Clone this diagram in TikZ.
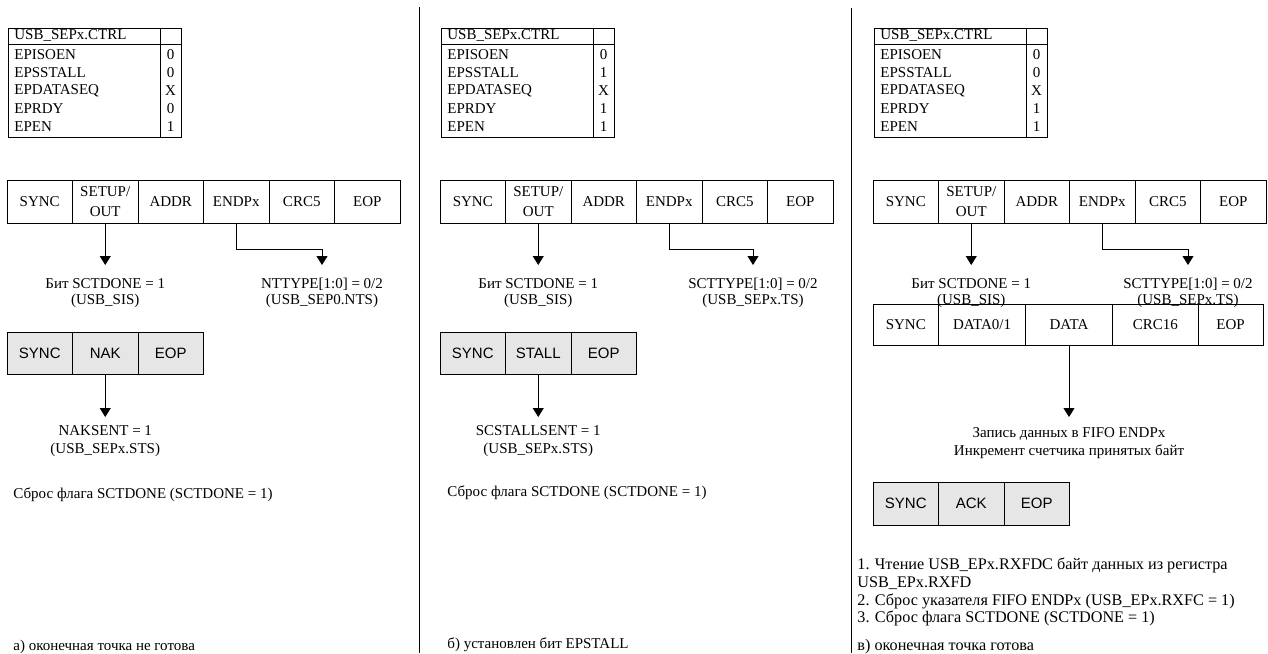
\documentclass[tikz,border=0pt]{standalone}
\usepackage{fontspec}
\setmainfont{Liberation Serif}
\setsansfont{Liberation Sans}
\usetikzlibrary{arrows.meta, positioning}
\definecolor{pktgray}{RGB}{230,230,230}

\begin{document}
\begin{tikzpicture}[x=1pt, y=-1pt, line width=0.8pt,
  font=\fontsize{15}{16}\selectfont,
  field/.style={draw, minimum width=65.5pt, minimum height=43pt, inner sep=0pt, outer sep=0pt, align=center},
  hsfield/.style={field, fill=pktgray, minimum height=42pt, font=\fontsize{15}{16}\selectfont\sffamily},
  txt/.style={align=center, inner sep=0pt},
  note/.style={anchor=west, inner sep=0pt},
  arr/.style={-{Triangle[width=11pt, length=9pt]}, shorten >=13pt}]
\useasboundingbox (0,0) rectangle (1268,653);

% dividers
\draw (419,7) -- (419,653);
\draw (851,8) -- (851,653);

\foreach \p/\ox/\vs/\vr in {a/0/0/0, b/433/1/1, c/866/0/1} {
  % register table
  \draw (\ox+8,28) rectangle (\ox+181,137);
  \draw (\ox+160,28) -- (\ox+160,137);
  \draw (\ox+8,44) -- (\ox+181,44);
  \node[note] (ctrl\p) at (\ox+14,36) {USB\_SEPx.CTRL};
  \foreach \rn/\rv [count=\k] in {EPISOEN/0, EPSSTALL/\vs, EPDATASEQ/X, EPRDY/\vr, EPEN/1} {
    \node[note] (bit\p\k) at (\ox+14,37+18*\k) {\rn};
    \node[txt] (val\p\k) at (\ox+170.5,37+18*\k) {\rv};
  }
  % token packet
  \node[field, anchor=north west] (sync\p) at (\ox+7,180) {SYNC};
  \node[field, right=0pt of sync\p, font=\fontsize{15}{20}\selectfont] (pid\p) {SETUP/\\OUT};
  \node[field, right=0pt of pid\p] (addr\p) {ADDR};
  \node[field, right=0pt of addr\p] (endp\p) {ENDPx};
  \node[field, right=0pt of endp\p] (crc\p) {CRC5};
  \node[field, right=0pt of crc\p] (eop\p) {EOP};
  \node[txt, below=55pt of pid\p] (done\p) {Бит SCTDONE = 1\\(USB\_SIS)};
  \draw[arr] (pid\p) -- (done\p);
}

\node[txt, anchor=north] (typea) at (322,278) {NTTYPE[1:0] = 0/2\\(USB\_SEP0.NTS)};
\node[txt, anchor=north] (typeb) at (753,278) {SCTTYPE[1:0] = 0/2\\(USB\_SEPx.TS)};
\node[txt, anchor=north] (typec) at (1188,278) {SCTTYPE[1:0] = 0/2\\(USB\_SEPx.TS)};
\foreach \p in {a,b,c}
  \draw[arr] (endp\p.south) -- ++(0,26) -| (type\p.north);

% a) endpoint not ready
\node[hsfield, anchor=north west] (hsynca) at (7,332) {SYNC};
\node[hsfield, right=0pt of hsynca] (naka) {NAK};
\node[hsfield, right=0pt of naka] (heopa) {EOP};
\node[txt, below=51pt of naka, font=\fontsize{15}{18}\selectfont] (senta) {NAKSENT = 1\\(USB\_SEPx.STS)};
\draw[arr, shorten >=8pt] (naka) -- (senta);
\node[note] (clra) at (13,495) {Сброс флага SCTDONE (SCTDONE = 1)};
\node[note] (capa) at (13,647) {а) оконечная точка не готова};

% b) EPSTALL set
\node[hsfield, anchor=north west] (hsyncb) at (440,332) {SYNC};
\node[hsfield, right=0pt of hsyncb] (stallb) {STALL};
\node[hsfield, right=0pt of stallb] (heopb) {EOP};
\node[txt, below=51pt of stallb, font=\fontsize{15}{18}\selectfont] (sentb) {SCSTALLSENT = 1\\(USB\_SEPx.STS)};
\draw[arr, shorten >=8pt] (stallb) -- (sentb);
\node[note] (clrb) at (447,493) {Сброс флага SCTDONE (SCTDONE = 1)};
\node[note] (capb) at (447,645) {б) установлен бит EPSTALL};

% c) endpoint ready
\node[field, anchor=north west, minimum height=41pt] (dsync) at (873,304) {SYNC};
\node[field, right=0pt of dsync, minimum width=87pt, minimum height=41pt] (dpid) {DATA0/1};
\node[field, right=0pt of dpid, minimum width=87pt, minimum height=41pt] (ddata) {DATA};
\node[field, right=0pt of ddata, minimum width=85.5pt, minimum height=41pt] (dcrc) {CRC16};
\node[field, right=0pt of dcrc, minimum width=65pt, minimum height=41pt] (deop) {EOP};
\node[txt, below=82pt of ddata, font=\fontsize{15}{18}\selectfont] (fifo) {Запись данных в FIFO ENDPx\\Инкремент счетчика принятых байт};
\draw[arr, shorten >=10pt] (ddata) -- (fifo);
\node[hsfield, anchor=north west, minimum height=43pt] (hsyncc) at (873,482) {SYNC};
\node[hsfield, right=0pt of hsyncc, minimum height=43pt] (ackc) {ACK};
\node[hsfield, right=0pt of ackc, minimum height=43pt] (heopc) {EOP};
\begin{scope}[every node/.append style={font=\fontsize{16.2}{18}\selectfont}]
\node[note] (stepone) at (857,565) {1. Чтение USB\_EPx.RXFDC байт данных из регистра};
\node[note] (steponeb) at (857,583) {USB\_EPx.RXFD};
\node[note] (steptwo) at (857,601) {2. Сброс указателя FIFO ENDPx (USB\_EPx.RXFC = 1)};
\node[note] (stepthree) at (857,618) {3. Сброс флага SCTDONE (SCTDONE = 1)};
\node[note] (capc) at (857,647) {в) оконечная точка готова};
\end{scope}
\end{tikzpicture}
\end{document}
